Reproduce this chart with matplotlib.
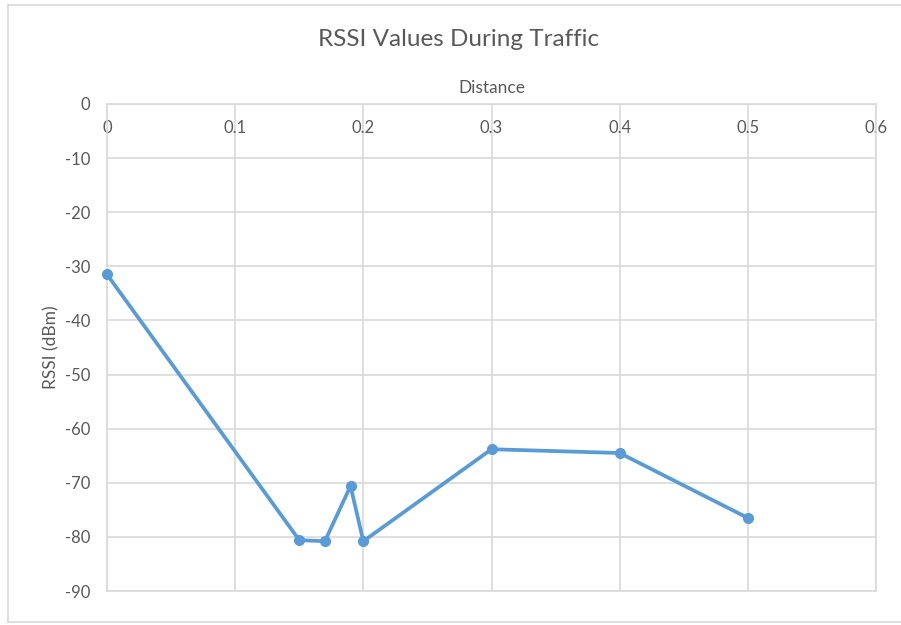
import matplotlib
matplotlib.use("Agg")
import matplotlib.pyplot as plt
from matplotlib.lines import Line2D

# data
distance = [0, 0.15, 0.17, 0.19, 0.2, 0.3, 0.4, 0.5]
rssi = [-31.5, -80.6, -80.8, -70.6, -80.8, -63.8, -64.5, -76.5]
x_ticks = [0, 0.1, 0.2, 0.3, 0.4, 0.5, 0.6]
x_tick_labels = ["0", "0.1", "0.2", "0.3", "0.4", "0.5", "0.6"]
y_ticks = [0, -10, -20, -30, -40, -50, -60, -70, -80, -90]

plt.rcParams["font.family"] = ["Lato", "DejaVu Sans"]
plt.rcParams["axes.unicode_minus"] = False
text_color = "#595959"
grid_color = "#D9D9D9"
line_color = "#5B9BD5"

fig = plt.figure(figsize=(9.01, 6.25), dpi=100)
ax = fig.add_axes([107 / 901, 1 - 591 / 625, 769 / 901, 487 / 625])

ax.plot(distance, rssi, color=line_color, linewidth=2.7, marker="o",
        markersize=7, zorder=3, clip_on=False)

ax.set_xlim(0, 0.6)
ax.set_ylim(-90, 0)
ax.set_xticks(x_ticks)
ax.set_xticklabels(x_tick_labels)
ax.set_yticks(y_ticks)
ax.grid(True, color=grid_color, linewidth=1.2)
ax.set_axisbelow(True)

for side in ["top", "bottom", "left", "right"]:
    ax.spines[side].set_color(grid_color)
    ax.spines[side].set_linewidth(1.2)

# x axis sits at y=0 (top), labels hang below it
ax.xaxis.set_label_position("top")
ax.tick_params(axis="x", top=True, bottom=False, labeltop=True,
               labelbottom=False, length=0, pad=-23,
               labelsize=12, labelcolor=text_color)
ax.tick_params(axis="y", length=0, pad=12, labelsize=12, labelcolor=text_color)

ax.set_xlabel("Distance", fontsize=12.5, color=text_color, labelpad=8)
ax.set_ylabel("RSSI (dBm)", fontsize=12.5, color=text_color, labelpad=4)
fig.text(459 / 901, 1 - 40 / 625, "RSSI Values During Traffic", ha="center",
         va="center", fontsize=17.5, color=text_color)

# faint chart-area border
border = dict(color=grid_color, linewidth=1.2, transform=fig.transFigure)
fig.add_artist(Line2D([8 / 901, 8 / 901], [1 - 5 / 625, 1 - 622 / 625], **border))
fig.add_artist(Line2D([8 / 901, 1], [1 - 5 / 625, 1 - 5 / 625], **border))
fig.add_artist(Line2D([8 / 901, 1], [1 - 622 / 625, 1 - 622 / 625], **border))

fig.savefig("out.png", dpi=100)
